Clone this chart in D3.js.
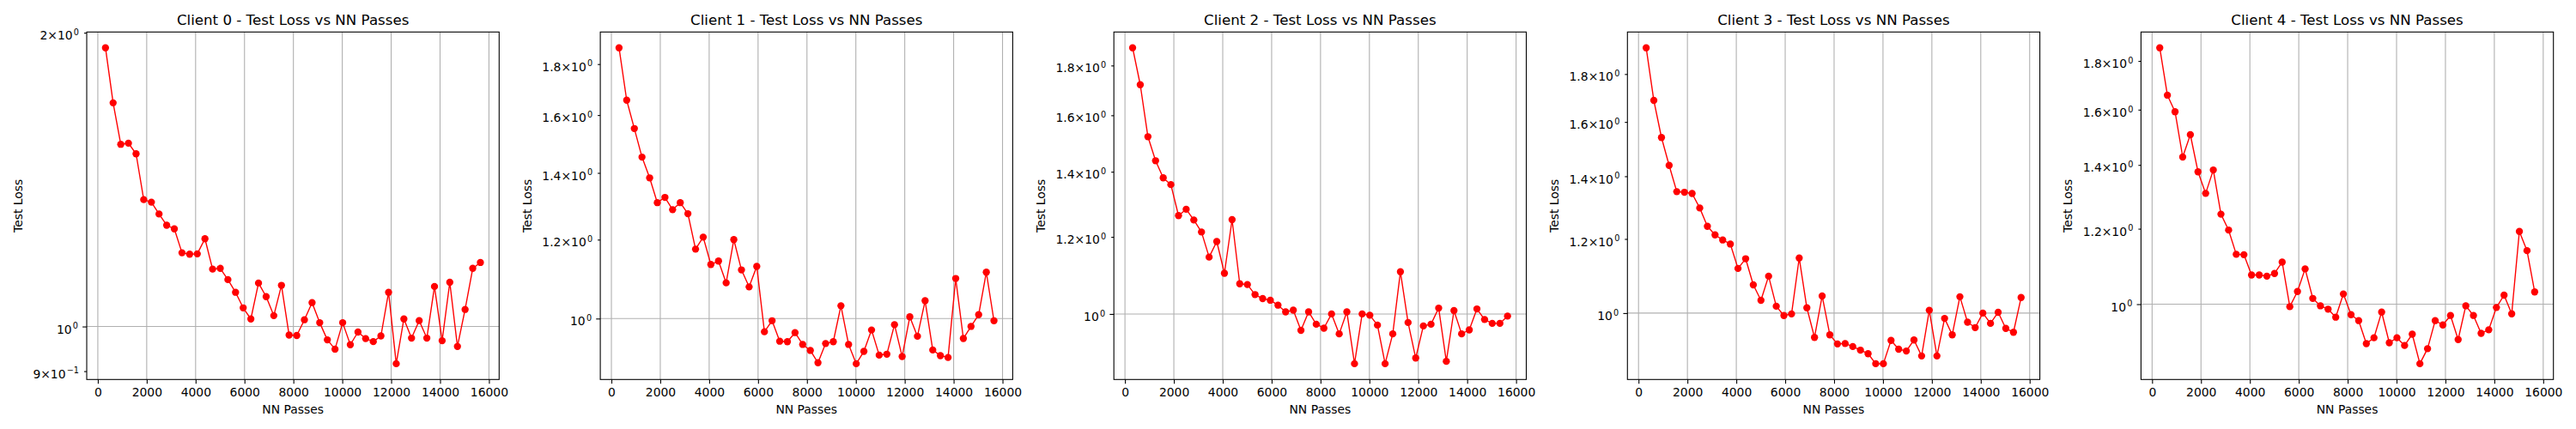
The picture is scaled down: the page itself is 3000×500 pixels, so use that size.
<!DOCTYPE html>
<html>
<head>
<meta charset="utf-8">
<script src="https://cdn.jsdelivr.net/npm/d3@7"></script>
<style>
  body { margin: 0; background: #fff; }
  text { font-family: "DejaVu Sans", sans-serif; fill: #000; }
</style>
</head>
<body>
<svg id="chart" width="3000" height="500"></svg>
<script>
// x values: NN passes at each evaluation
var passes = [313, 626, 939, 1252, 1565, 1878, 2191, 2504, 2817, 3130,
  3443, 3756, 4069, 4382, 4695, 5008, 5321, 5634, 5947, 6260,
  6573, 6886, 7199, 7512, 7825, 8138, 8451, 8764, 9077, 9390,
  9703, 10016, 10329, 10642, 10955, 11268, 11581, 11894, 12207, 12520,
  12833, 13146, 13459, 13772, 14085, 14398, 14711, 15024, 15337, 15650];

var loss0 = [1.930, 1.695, 1.537, 1.541, 1.503, 1.349, 1.341, 1.304, 1.270, 1.259,
  1.190, 1.186, 1.187, 1.230, 1.145, 1.147, 1.117, 1.084, 1.045, 1.018,
  1.108, 1.073, 1.026, 1.102, 0.980, 0.979, 1.016, 1.058, 1.009, 0.969,
  0.948, 1.009, 0.958, 0.987, 0.972, 0.965, 0.978, 1.084, 0.916, 1.018,
  0.973, 1.014, 0.973, 1.099, 0.967, 1.110, 0.954, 1.041, 1.147, 1.163];

var loss1 = [1.869, 1.656, 1.551, 1.452, 1.384, 1.307, 1.323, 1.286, 1.307, 1.274,
  1.174, 1.207, 1.133, 1.142, 1.086, 1.200, 1.119, 1.076, 1.128, 0.970,
  0.995, 0.949, 0.948, 0.968, 0.942, 0.929, 0.903, 0.944, 0.948, 1.030,
  0.942, 0.901, 0.927, 0.974, 0.919, 0.921, 0.986, 0.916, 1.004, 0.960,
  1.042, 0.930, 0.918, 0.914, 1.097, 0.955, 0.982, 1.009, 1.113, 0.995];

var loss2 = [1.877, 1.720, 1.521, 1.437, 1.380, 1.358, 1.262, 1.281, 1.249, 1.214,
  1.144, 1.187, 1.101, 1.250, 1.074, 1.072, 1.047, 1.037, 1.033, 1.021,
  1.005, 1.009, 0.962, 1.005, 0.976, 0.967, 1.000, 0.954, 1.005, 0.889,
  1.000, 0.997, 0.974, 0.889, 0.954, 1.105, 0.980, 0.901, 0.972, 0.976,
  1.014, 0.894, 1.008, 0.954, 0.963, 1.012, 0.987, 0.978, 0.978, 0.995];

var loss3 = [1.920, 1.687, 1.540, 1.438, 1.348, 1.346, 1.342, 1.295, 1.238, 1.212,
  1.197, 1.185, 1.116, 1.143, 1.072, 1.032, 1.095, 1.017, 0.994, 0.998,
  1.145, 1.013, 0.942, 1.043, 0.948, 0.927, 0.928, 0.921, 0.913, 0.905,
  0.883, 0.883, 0.935, 0.915, 0.911, 0.936, 0.900, 1.007, 0.900, 0.987,
  0.948, 1.041, 0.978, 0.965, 1.000, 0.975, 1.002, 0.963, 0.954, 1.039];

var loss4 = [1.858, 1.657, 1.592, 1.427, 1.506, 1.377, 1.307, 1.383, 1.243, 1.196,
  1.128, 1.127, 1.073, 1.073, 1.070, 1.077, 1.107, 0.994, 1.031, 1.089,
  1.014, 0.996, 0.988, 0.969, 1.025, 0.975, 0.961, 0.909, 0.922, 0.981,
  0.911, 0.922, 0.905, 0.930, 0.866, 0.898, 0.961, 0.951, 0.973, 0.918,
  0.996, 0.973, 0.932, 0.940, 0.992, 1.022, 0.977, 1.192, 1.138, 1.030];

var clientNames = ['Client 0', 'Client 1', 'Client 2', 'Client 3', 'Client 4'];
var lossSeries = [loss0, loss1, loss2, loss3, loss4];

var xTicks = [0, 2000, 4000, 6000, 8000, 10000, 12000, 14000, 16000];
var yMajorTicks = [1];
var yMinorTicks = [
  [0.9, 2],
  [1.2, 1.4, 1.6, 1.8],
  [1.2, 1.4, 1.6, 1.8],
  [1.2, 1.4, 1.6, 1.8],
  [1.2, 1.4, 1.6, 1.8]
];

// layout (px) - mimics a 30x5in matplotlib figure at 100 dpi
var axLeft0 = 101;
var axStep = 598.1;
var axW = 480.3;
var axTop = 37.3;
var axH = 405;
var fontTick = 13.9;
var fontTitle = 16.67;
var red = '#ff0000';
var gridColor = '#b0b0b0';

var svg = d3.select('#chart');

/**
 * mathtext-like label: 1.8×10^0, 10^0, 9×10^-1
 */
function sciLabel (textSel, v) {
  var e = Math.floor(Math.log10(v) + 1e-9);
  var m = +(v / Math.pow(10, e)).toFixed(2);
  var head = Math.abs(m - 1) < 1e-6 ? '10' : d3.format('~g')(m) + '\u00d710';
  textSel.text(null);
  textSel.append('tspan').text(head);
  textSel.append('tspan')
    .attr('dx', 1.2)
    .attr('dy', -5.4)
    .style('font-size', '9.7px')
    .text(e < 0 ? '\u2212' + (-e) : String(e));
}

function styleAxis (g) {
  g.select('.domain').remove();
  g.selectAll('line').attr('stroke', '#000').attr('stroke-width', 1.1);
  g.selectAll('text')
    .attr('fill', '#000')
    .style('font-family', '"DejaVu Sans", sans-serif')
    .style('font-size', fontTick + 'px');
}

lossSeries.forEach(function (loss, i) {
  var g = svg.append('g')
    .attr('transform', 'translate(' + (axLeft0 + axStep * i) + ',' + axTop + ')');

  // autoscale with 5% margins (log space for y)
  var xExt = d3.extent(passes);
  var xPad = (xExt[1] - xExt[0]) * 0.05;
  var x = d3.scaleLinear()
    .domain([xExt[0] - xPad, xExt[1] + xPad])
    .range([0, axW]);

  var lExt = d3.extent(loss).map(Math.log10);
  var lPad = (lExt[1] - lExt[0]) * 0.05;
  var y = d3.scaleLog()
    .domain([Math.pow(10, lExt[0] - lPad), Math.pow(10, lExt[1] + lPad)])
    .range([axH, 0]);

  // grid
  var grid = g.append('g');
  grid.selectAll('line.vx')
    .data(xTicks)
    .join('line')
    .attr('class', 'vx')
    .attr('x1', function (d) { return x(d); })
    .attr('x2', function (d) { return x(d); })
    .attr('y1', 0)
    .attr('y2', axH)
    .attr('stroke', gridColor)
    .attr('stroke-width', 1.1);
  grid.selectAll('line.hy')
    .data(yMajorTicks)
    .join('line')
    .attr('class', 'hy')
    .attr('x1', 0)
    .attr('x2', axW)
    .attr('y1', function (d) { return y(d); })
    .attr('y2', function (d) { return y(d); })
    .attr('stroke', gridColor)
    .attr('stroke-width', 1.1);

  // series
  var line = d3.line()
    .x(function (d, k) { return x(passes[k]); })
    .y(function (d) { return y(d); });

  g.append('path')
    .datum(loss)
    .attr('d', line)
    .attr('fill', 'none')
    .attr('stroke', red)
    .attr('stroke-width', 1.39)
    .attr('stroke-linejoin', 'round');

  g.selectAll('circle')
    .data(loss)
    .join('circle')
    .attr('cx', function (d, k) { return x(passes[k]); })
    .attr('cy', function (d) { return y(d); })
    .attr('r', 4.17)
    .attr('fill', red);

  // x axis
  var xAxis = g.append('g')
    .attr('transform', 'translate(0,' + axH + ')')
    .call(d3.axisBottom(x)
      .tickValues(xTicks)
      .tickSize(4.86)
      .tickPadding(4.86)
      .tickFormat(d3.format('d')));
  styleAxis(xAxis);

  // y axis: major and minor ticks
  var yMajor = g.append('g')
    .call(d3.axisLeft(y).tickValues(yMajorTicks).tickSize(4.86).tickPadding(5.2));
  var yMinor = g.append('g')
    .call(d3.axisLeft(y).tickValues(yMinorTicks[i]).tickSize(3).tickPadding(6));
  [yMajor, yMinor].forEach(function (ax) {
    styleAxis(ax);
    ax.selectAll('.tick text')
      .attr('dy', 7.6)
      .each(function (d) { sciLabel(d3.select(this), d); });
  });

  // y label placed left of the widest tick label
  var minX = 0;
  g.selectAll('.tick text').each(function () {
    var b = this.getBBox();
    var px = b.x + (this.parentNode.transform.baseVal.consolidate() ? 0 : 0);
    if (px < minX) minX = px;
  });
  g.append('text')
    .attr('transform', 'translate(' + (minX - 12.5) + ',' + (axH / 2) + ') rotate(-90)')
    .attr('text-anchor', 'middle')
    .style('font-size', fontTick + 'px')
    .text('Test Loss');

  g.append('text')
    .attr('x', axW / 2)
    .attr('y', 482 - axTop)
    .attr('text-anchor', 'middle')
    .style('font-size', fontTick + 'px')
    .text('NN Passes');

  g.append('text')
    .attr('x', axW / 2)
    .attr('y', -8.3)
    .attr('text-anchor', 'middle')
    .style('font-size', fontTitle + 'px')
    .text(clientNames[i] + ' - Test Loss vs NN Passes');

  // spines
  g.append('rect')
    .attr('width', axW)
    .attr('height', axH)
    .attr('fill', 'none')
    .attr('stroke', '#000')
    .attr('stroke-width', 1.1);
});
</script>
</body>
</html>
